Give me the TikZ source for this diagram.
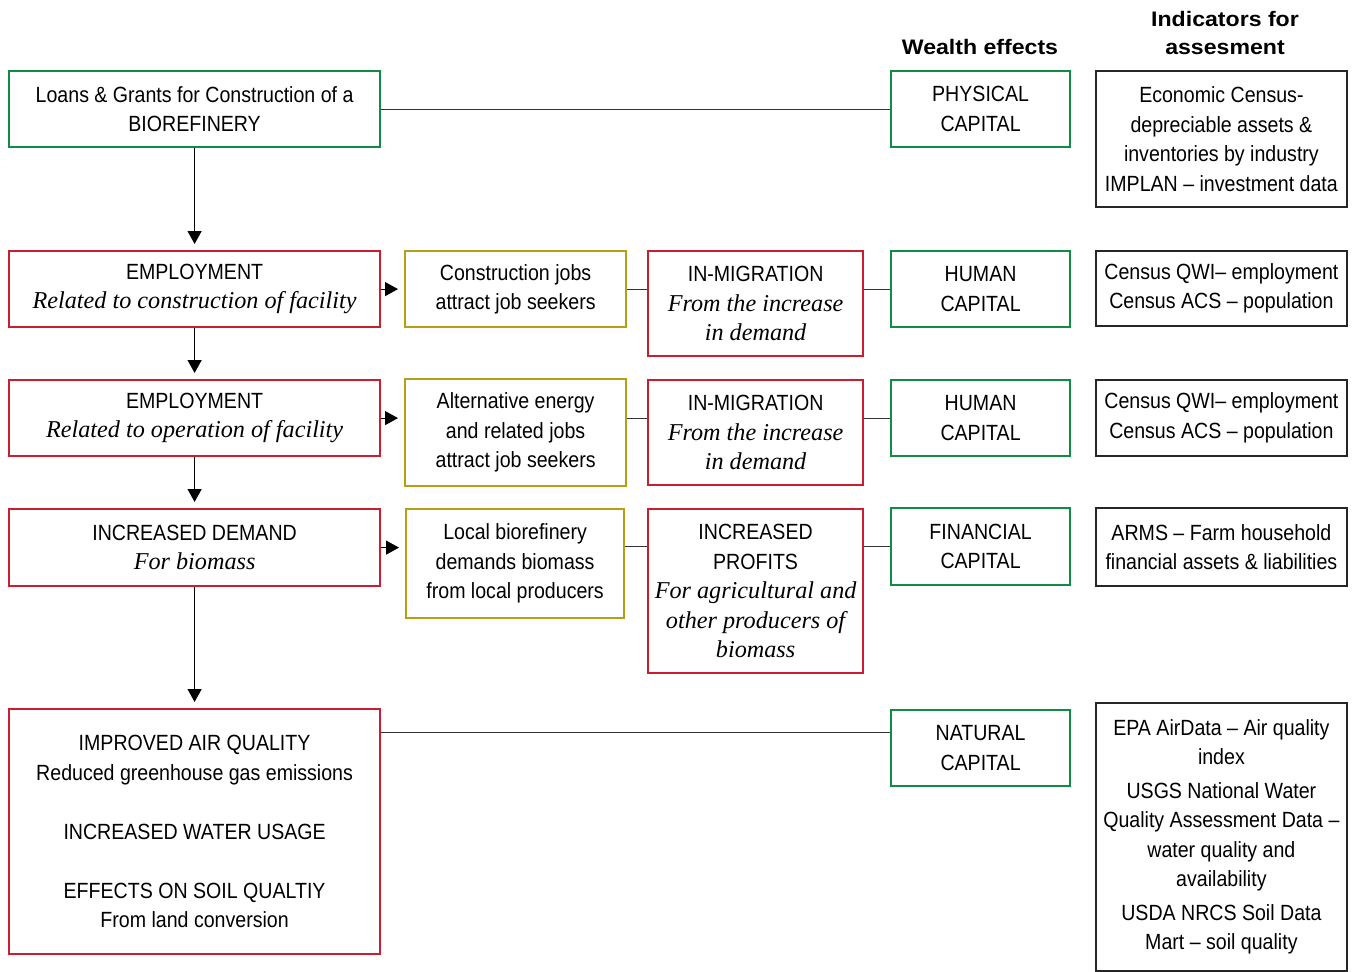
\documentclass[tikz,border=0pt]{standalone}
\usepackage{fontspec}
\setmainfont{Liberation Sans}[FakeStretch=0.89]
\newfontfamily\seriffam{Liberation Serif}
\newfontfamily\headfont{Liberation Sans}[FakeStretch=1.1]
\usepackage{tikz}
\usetikzlibrary{arrows.meta, positioning}

\definecolor{capgreen}{RGB}{16,140,68}
\definecolor{effred}{RGB}{200,30,48}
\definecolor{jobolive}{RGB}{180,160,20}
\newcommand{\subtxt}[1]{{\fontsize{24.2}{29.5}\selectfont\seriffam\itshape #1}}

\begin{document}
\begin{tikzpicture}[x=1pt, y=-1pt]
\tikzset{box/.style={rectangle, draw, line width=2.2pt, inner sep=0pt, align=center, anchor=north west, font=\fontsize{22}{29.5}\selectfont}}
	\tikzset{boxG/.style={box, draw=capgreen}}
	\tikzset{boxR/.style={box, draw=effred}}
	\tikzset{boxY/.style={box, draw=jobolive}}
	\tikzset{boxK/.style={box, draw=black!85, line width=1.8pt}}
	\tikzset{head/.style={align=center, inner sep=0pt, font=\headfont\bfseries\fontsize{21}{28}\selectfont}}
	\tikzset{flow/.style={-{Triangle[length=13pt,width=14pt]}, line width=1.2pt, shorten >=6pt}}
	\tikzset{link/.style={line width=1.2pt, draw=black!80}}

	\newcommand{\cbox}[7]{
\node[#1, minimum width=#4pt-#2pt, minimum height=#5pt-#3pt] (#6) at (#2,#3) {#7};
	}

\useasboundingbox (0,0) rectangle (1353,972);

% headers
\node[head] (wealth) at (980,47) {Wealth effects};
\node[head] (indic) at (1225,33) {Indicators for\\assesment};

% chain of effects
\cbox{boxG}{8}{70}{379}{146}{loans}{Loans \& Grants for Construction of a\\BIOREFINERY}
\cbox{boxR}{8}{250}{379}{326}{empA}{EMPLOYMENT\\\subtxt{Related to construction of facility}}
\cbox{boxR}{8}{379}{379}{455}{empB}{EMPLOYMENT\\\subtxt{Related to operation of facility}}
\cbox{boxR}{8}{508}{379}{585}{demand}{INCREASED DEMAND\\\subtxt{For biomass}}
\cbox{boxR}{8}{708}{379}{953}{air}{IMPROVED AIR QUALITY\\Reduced greenhouse gas emissions\\[29.5pt]INCREASED WATER USAGE\\[29.5pt]EFFECTS ON SOIL QUALTIY\\From land conversion}

\cbox{boxY}{404}{250}{625}{326}{jobsA}{Construction jobs\\attract job seekers}
\cbox{boxY}{404}{378}{625}{485}{jobsB}{Alternative energy\\and related jobs\\attract job seekers}
\cbox{boxY}{405}{508}{623}{617}{local}{Local biorefinery\\demands biomass\\from local producers}

\cbox{boxR}{647}{250}{862}{355}{migA}{IN-MIGRATION\\\subtxt{From the increase}\\\subtxt{in demand}}
\cbox{boxR}{647}{379}{862}{484}{migB}{IN-MIGRATION\\\subtxt{From the increase}\\\subtxt{in demand}}
\cbox{boxR}{647}{508}{862}{672}{profits}{INCREASED\\PROFITS\\\subtxt{For agricultural and}\\\subtxt{other producers of}\\\subtxt{biomass}}

% wealth effects
\cbox{boxG}{890}{70}{1069}{146}{physical}{PHYSICAL\\CAPITAL}
\cbox{boxG}{890}{250}{1069}{326}{humanA}{HUMAN\\CAPITAL}
\cbox{boxG}{890}{379}{1069}{455}{humanB}{HUMAN\\CAPITAL}
\cbox{boxG}{890}{507}{1069}{584}{financial}{FINANCIAL\\CAPITAL}
\cbox{boxG}{890}{709}{1069}{785}{natural}{NATURAL\\CAPITAL}

% indicators
\cbox{boxK}{1095}{70}{1346}{206}{indA}{Economic Census-\\depreciable assets \&\\inventories by industry\\IMPLAN \textendash{} investment data}
\cbox{boxK}{1095}{250}{1346}{325}{indB}{Census QWI\textendash{} employment\\Census ACS \textendash{} population}
\cbox{boxK}{1095}{379}{1346}{455}{indC}{Census QWI\textendash{} employment\\Census ACS \textendash{} population}
\cbox{boxK}{1095}{507}{1346}{585}{indD}{ARMS \textendash{} Farm household\\financial assets \& liabilities}
\cbox{boxK}{1095}{702}{1346}{970}{indE}{EPA AirData \textendash{} Air quality\\index\\[4pt]USGS National Water\\Quality Assessment Data \textendash\\water quality and\\availability\\[4pt]USDA NRCS Soil Data\\Mart \textendash{} soil quality}

% vertical flow
\draw[flow] (loans) -- (empA);
\draw[flow] (empA) -- (empB);
\draw[flow] (empB) -- (demand);
\draw[flow] (demand) -- (air);

% rows
\draw[flow] (empA.east) -- (empA.east -| jobsA.west);
\draw[link] (jobsA.east) -- (jobsA.east -| migA.west);
\draw[link] (migA.east |- humanA.west) -- (humanA.west);

\draw[flow] (empB.east) -- (empB.east -| jobsB.west);
\draw[link] (jobsB.east |- empB.east) -- (migB.west |- empB.east);
\draw[link] (migB.east |- humanB.west) -- (humanB.west);

\draw[flow] (demand.east) -- (demand.east -| local.west);
\draw[link] (local.east |- financial.west) -- (profits.west |- financial.west);
\draw[link] (profits.east |- financial.west) -- (financial.west);

\draw[link] (loans.east) -- (physical.west);
\coordinate (natin) at ([yshift=16pt]natural.west);
\draw[link] (air.east |- natin) -- (natin);
%\draw[link] (natural.east) -- (indE.west);
\end{tikzpicture}
\end{document}
